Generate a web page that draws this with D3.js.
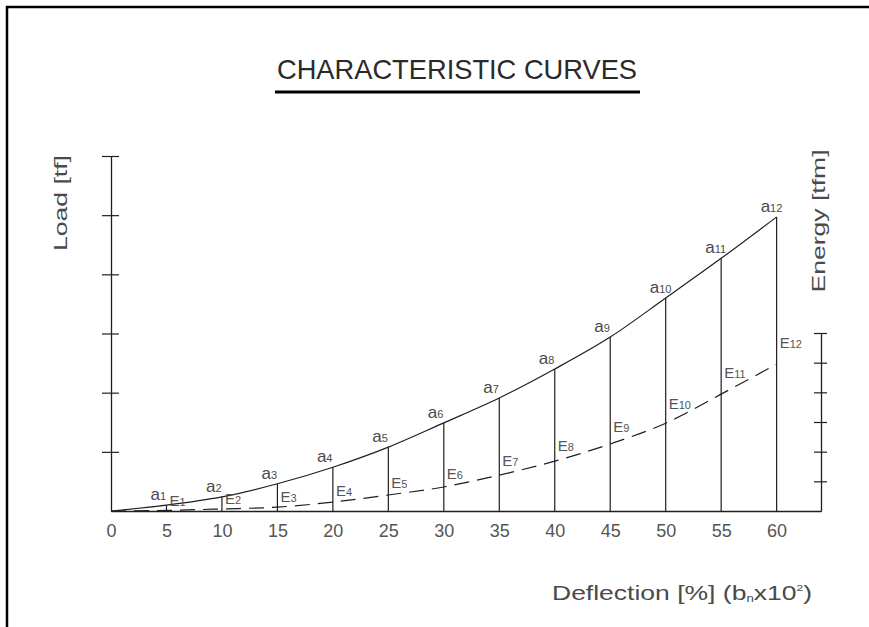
<!DOCTYPE html>
<html>
<head>
<meta charset="utf-8">
<script src="https://cdn.jsdelivr.net/npm/d3@7"></script>
<style>
  body { margin: 0; background: #fff; }
  text { font-family: "Liberation Sans", Arial, sans-serif; }
</style>
</head>
<body>
<svg id="chart" width="869" height="627"></svg>
<script>
// 横軸のたわみ [%]
const deflection = [0, 5, 10, 15, 20, 25, 30, 35, 40, 45, 50, 55, 60];
const xTickLabels = ["0", "5", "10", "15", "20", "25", "30", "35", "40", "45", "50", "55", "60"];
// 荷重 a1..a12（左軸、目盛り単位）
const load = [0, 0.10, 0.24, 0.46, 0.74, 1.08, 1.49, 1.91, 2.40, 2.94, 3.60, 4.27, 4.97];
// エネルギー E1..E12（右軸、目盛り単位）
const energy = [0, 0.02, 0.07, 0.13, 0.30, 0.54, 0.81, 1.21, 1.68, 2.26, 2.96, 3.94, 4.95];
const loadTicks = [1, 2, 3, 4, 5, 6];
const energyTicks = [1, 2, 3, 4, 5, 6];

const svg = d3.select("#chart");
const ink = "#1f1f1f";
const textInk = "#4a4a4a";

// 外枠（右と下は画面外まで）
svg.append("rect")
  .attr("x", 7).attr("y", 7)
  .attr("width", 900).attr("height", 700)
  .attr("fill", "none").attr("stroke", "#000").attr("stroke-width", 2.5);

// タイトル
svg.append("text")
  .attr("x", 457).attr("y", 79)
  .attr("text-anchor", "middle")
  .attr("font-size", 28)
  .attr("fill", "#2a2a2a")
  .attr("textLength", 360)
  .attr("lengthAdjust", "spacingAndGlyphs")
  .text("CHARACTERISTIC CURVES");
svg.append("line")
  .attr("x1", 275).attr("x2", 640)
  .attr("y1", 92).attr("y2", 92)
  .attr("stroke", "#000").attr("stroke-width", 3);

const xScale = d3.scaleLinear().domain([0, 64]).range([111, 821]);
const yLoad = d3.scaleLinear().domain([0, 6]).range([511, 156]);
const yEnergy = d3.scaleLinear().domain([0, 6]).range([511, 333]);

// 左軸
const leftAxis = svg.append("g")
  .attr("transform", `translate(${xScale(0)},0)`)
  .call(d3.axisLeft(yLoad).tickValues(loadTicks).tickFormat("").tickSizeOuter(0));
leftAxis.selectAll(".tick line").attr("x1", -9).attr("x2", 8).attr("stroke", ink).attr("stroke-width", 1.2);
leftAxis.select(".domain").attr("stroke", ink).attr("stroke-width", 1.3);

// 右軸
const rightAxis = svg.append("g")
  .attr("transform", `translate(${xScale(64)},0)`)
  .call(d3.axisRight(yEnergy).tickValues(energyTicks).tickFormat("").tickSizeOuter(0));
rightAxis.selectAll(".tick line").attr("x1", -7).attr("x2", 6).attr("stroke", ink).attr("stroke-width", 1.2);
rightAxis.select(".domain").attr("stroke", ink).attr("stroke-width", 1.3);

// 下軸
const bottomAxis = svg.append("g")
  .attr("transform", `translate(0,${yLoad(0)})`)
  .call(d3.axisBottom(xScale)
    .tickValues(deflection)
    .tickFormat((d, i) => xTickLabels[i])
    .tickSize(0).tickSizeOuter(0).tickPadding(13));
bottomAxis.select(".domain").attr("stroke", ink).attr("stroke-width", 1.3);
bottomAxis.selectAll("text")
  .attr("font-size", 18)
  .attr("fill", "#555")
  .style("font-family", "'Liberation Sans', Arial, sans-serif");

// 縦線（各点から横軸まで）
svg.append("g").selectAll("line")
  .data(deflection.slice(1))
  .enter().append("line")
  .attr("x1", d => xScale(d)).attr("x2", d => xScale(d))
  .attr("y1", yLoad(0))
  .attr("y2", (d, i) => yLoad(load[i + 1]))
  .attr("stroke", ink).attr("stroke-width", 1.2);

// 荷重曲線（実線）
const loadPts = deflection.map((d, i) => [xScale(d), yLoad(load[i])]);
svg.append("path")
  .datum(loadPts)
  .attr("d", d3.line().curve(d3.curveMonotoneX))
  .attr("fill", "none").attr("stroke", ink).attr("stroke-width", 1.2);

// エネルギー曲線（破線）
const energyPts = deflection.map((d, i) => [xScale(d), yEnergy(energy[i])]);
svg.append("path")
  .datum(energyPts)
  .attr("d", d3.line().curve(d3.curveMonotoneX))
  .attr("fill", "none").attr("stroke", ink).attr("stroke-width", 1.2)
  .attr("stroke-dasharray", "15,8");

// a ラベル
loadPts.slice(1).forEach((p, i) => {
  const t = svg.append("text")
    .attr("x", p[0] - 16).attr("y", p[1] - 5)
    .attr("font-size", 17).attr("fill", textInk);
  t.append("tspan").text("a");
  t.append("tspan").attr("font-size", 11).text(i + 1);
});

// E ラベル（曲線の傾きに応じて少し上に）
energyPts.slice(1).forEach((p, j) => {
  const i = j + 1;
  const prev = energyPts[i - 1];
  const next = energyPts[Math.min(i + 1, energyPts.length - 1)];
  const slope = (prev[1] - next[1]) / (next[0] - prev[0]);
  const t = svg.append("text")
    .attr("x", p[0] + 3).attr("y", p[1] - 4 - slope * 22)
    .attr("font-size", 15).attr("fill", "#555");
  t.append("tspan").text("E");
  t.append("tspan").attr("font-size", 11).text(i);
});

// 軸タイトル
svg.append("text")
  .attr("transform", "translate(67,203) rotate(-90)")
  .attr("text-anchor", "middle")
  .attr("font-size", 19).attr("fill", textInk)
  .attr("textLength", 96).attr("lengthAdjust", "spacingAndGlyphs")
  .text("Load [tf]");

svg.append("text")
  .attr("transform", "translate(825,221) rotate(-90)")
  .attr("text-anchor", "middle")
  .attr("font-size", 19).attr("fill", textInk)
  .attr("textLength", 143).attr("lengthAdjust", "spacingAndGlyphs")
  .text("Energy [tfm]");

const xt = svg.append("text")
  .attr("x", 552).attr("y", 600)
  .attr("font-size", 20).attr("fill", textInk)
  .attr("textLength", 260).attr("lengthAdjust", "spacingAndGlyphs");
xt.append("tspan").text("Deflection [%] (b");
xt.append("tspan").attr("font-size", 10).attr("dy", 2).text("n");
xt.append("tspan").attr("dy", -2).text("x10");
xt.append("tspan").attr("font-size", 9).attr("dy", -9).text("2");
xt.append("tspan").attr("dy", 9).text(")");
</script>
</body>
</html>
